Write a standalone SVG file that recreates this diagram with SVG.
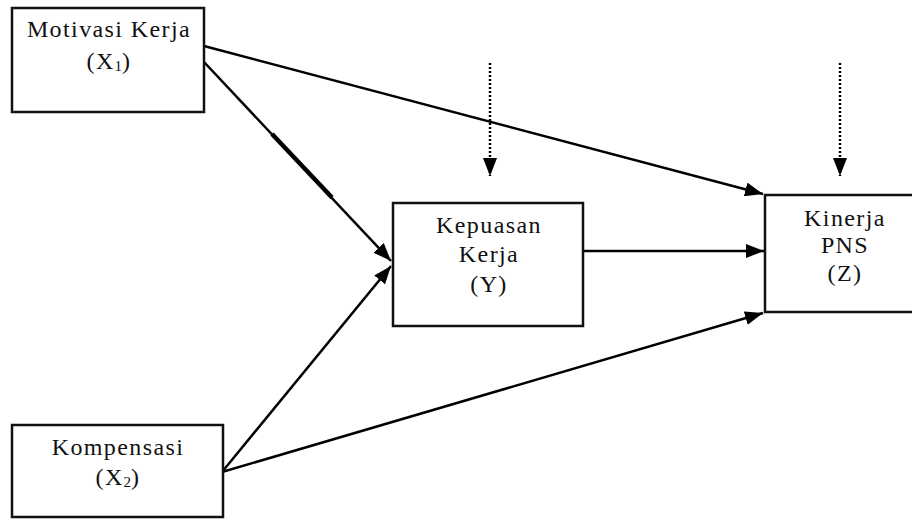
<svg xmlns="http://www.w3.org/2000/svg" width="912" height="520" viewBox="0 0 912 520">
<style>
.box{fill:#fff;stroke:#111;stroke-width:2.5}
text{font-family:'Liberation Serif','DejaVu Serif',serif;font-size:24px;letter-spacing:1.4px;fill:#111;text-anchor:middle}
.sub{font-size:15px;letter-spacing:0}
.c{stroke:#000;stroke-width:2.5;fill:none}
.d{stroke:#000;stroke-width:2.5;fill:none;stroke-dasharray:2 2}
</style>
<defs>
<marker id="ah" markerUnits="userSpaceOnUse" markerWidth="20" markerHeight="14" refX="18" refY="7" orient="auto">
<path d="M0,0 L18,7 L0,14 Z" fill="#000"/>
</marker>
</defs>
<rect width="912" height="520" fill="#fff"/>
<g id="connectors">
<line class="c" x1="204" y1="46" x2="763" y2="194" marker-end="url(#ah)"/>
<line class="c" x1="204" y1="62" x2="391" y2="261" marker-end="url(#ah)"/>
<line x1="272" y1="134" x2="332" y2="197.5" stroke="#000" stroke-width="4.5"/>
<line class="c" x1="222" y1="472" x2="391" y2="266" marker-end="url(#ah)"/>
<line class="c" x1="222" y1="472" x2="763" y2="313" marker-end="url(#ah)"/>
<line class="c" x1="583" y1="251" x2="764" y2="251" marker-end="url(#ah)"/>
<line class="d" x1="490" y1="63" x2="490" y2="176" marker-end="url(#ah)"/>
<line class="d" x1="840" y1="63" x2="840" y2="176" marker-end="url(#ah)"/>
</g>
<g id="motivasi">
<rect class="box" x="12" y="8" width="192" height="104"/>
<text x="109" y="37" font-family="Liberation Serif, serif">Motivasi Kerja</text>
<text x="109" y="69" font-family="Liberation Serif, serif">(X<tspan class="sub" dy="2">1</tspan><tspan dy="-2">)</tspan></text>
</g>
<g id="kompensasi">
<rect class="box" x="12" y="425" width="211" height="92"/>
<text x="118" y="455" font-family="Liberation Serif, serif">Kompensasi</text>
<text x="118" y="485" font-family="Liberation Serif, serif">(X<tspan class="sub" dy="2">2</tspan><tspan dy="-2">)</tspan></text>
</g>
<g id="kepuasan">
<rect class="box" x="393" y="203" width="190" height="123"/>
<text x="489" y="233" font-family="Liberation Serif, serif">Kepuasan</text>
<text x="489" y="262" font-family="Liberation Serif, serif">Kerja</text>
<text x="489" y="292" font-family="Liberation Serif, serif">(Y)</text>
</g>
<g id="kinerja">
<rect class="box" x="765" y="195" width="170" height="117"/>
<text x="845" y="226" font-family="Liberation Serif, serif">Kinerja</text>
<text x="845" y="253" font-family="Liberation Serif, serif">PNS</text>
<text x="845" y="281" font-family="Liberation Serif, serif">(Z)</text>
</g>
</svg>
